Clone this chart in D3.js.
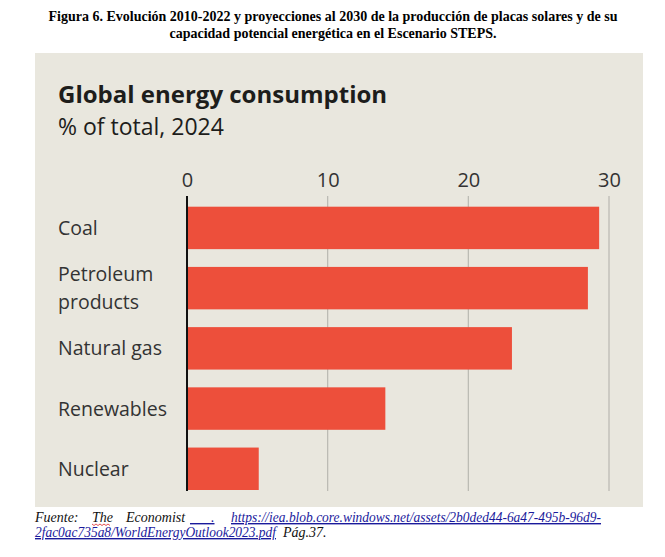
<!DOCTYPE html>
<html>
<head>
<meta charset="utf-8">
<script src="https://cdn.jsdelivr.net/npm/d3@7"></script>
<style>
  body { margin: 0; background: #fff; }
  svg { display: block; }
  .cat { font-family: "Open Sans", sans-serif; font-size: 19.5px; fill: #333; }
  .tick text { font-family: "Open Sans", sans-serif; font-size: 20px; fill: #333; }
  .head { font-family: "Liberation Serif", "Times New Roman", serif; font-weight: bold; font-size: 14px; fill: #000; }
  .foot { font-family: "Liberation Serif", "Times New Roman", serif; font-style: italic; font-size: 14px; fill: #111; }
  .link { fill: #1a1a9c; }
</style>
</head>
<body>
<div id="chart"></div>
<script>
// values, % of total 2024
var categories = ["Coal", "Petroleum products", "Natural gas", "Renewables", "Nuclear"];
var labelLines = [["Coal"], ["Petroleum", "products"], ["Natural gas"], ["Renewables"], ["Nuclear"]];
var shares = [29.3, 28.5, 23.1, 14.1, 5.1];
var tickValues = [0, 10, 20, 30];

var W = 665, H = 557;
var svg = d3.select("#chart").append("svg")
  .attr("width", W)
  .attr("height", H);

// figure caption above the panel
svg.append("text").attr("class", "head")
  .attr("x", 333).attr("y", 21).attr("text-anchor", "middle")
  .text("Figura 6. Evolución 2010-2022 y proyecciones al 2030 de la producción de placas solares y de su");
svg.append("text").attr("class", "head")
  .attr("x", 333).attr("y", 38).attr("text-anchor", "middle")
  .text("capacidad potencial energética en el Escenario STEPS.");

// beige panel
svg.append("rect")
  .attr("x", 35).attr("y", 53)
  .attr("width", 608).attr("height", 454)
  .attr("fill", "#e9e7de");

svg.append("text")
  .attr("x", 58).attr("y", 103)
  .style("font-family", "'Open Sans', sans-serif")
  .style("font-weight", "bold")
  .style("font-size", "24px")
  .style("fill", "#1d1d1b")
  .text("Global energy consumption");

svg.append("text")
  .attr("x", 58).attr("y", 135)
  .style("font-family", "'Open Sans', sans-serif")
  .style("font-size", "23px")
  .style("fill", "#1d1d1b")
  .text("% of total, 2024");

var x = d3.scaleLinear().domain([0, 30]).range([187, 609]);
var y = d3.scaleBand().domain(categories)
  .range([206.7, 490]).paddingInner(0.295).paddingOuter(0);

// tick labels and grid lines
var axis = svg.append("g")
  .attr("transform", "translate(0,197)")
  .call(d3.axisTop(x).tickValues(tickValues).tickSize(0).tickPadding(10));
axis.select(".domain").remove();

svg.append("g").selectAll("line.grid")
  .data(tickValues.slice(1))
  .enter().append("line")
  .attr("class", "grid")
  .attr("x1", x).attr("x2", x)
  .attr("y1", 196).attr("y2", 491)
  .attr("stroke", "#b9b8b1")
  .attr("stroke-width", 1.2);

svg.append("g").selectAll("rect.bar")
  .data(shares)
  .enter().append("rect")
  .attr("class", "bar")
  .attr("x", x(0))
  .attr("y", function(d, i) { return y(categories[i]); })
  .attr("width", function(d) { return x(d) - x(0); })
  .attr("height", y.bandwidth())
  .attr("fill", "#ed4f3b");

// zero line
svg.append("line")
  .attr("x1", x(0)).attr("x2", x(0))
  .attr("y1", 196).attr("y2", 491)
  .attr("stroke", "#111")
  .attr("stroke-width", 2);

// category labels
var lineH = 28;
var cat = svg.append("g").selectAll("text.cat")
  .data(labelLines)
  .enter().append("text")
  .attr("class", "cat")
  .attr("x", 58)
  .attr("y", function(d, i) {
    var mid = y(categories[i]) + y.bandwidth() / 2;
    return mid + 7 - (d.length - 1) * lineH / 2;
  });
cat.selectAll("tspan")
  .data(function(d) { return d; })
  .enter().append("tspan")
  .attr("x", 58)
  .attr("dy", function(d, j) { return j ? lineH : 0; })
  .text(function(d) { return d; });

// source note under the panel
var f1 = svg.append("text").attr("class", "foot").attr("y", 522);
f1.append("tspan").attr("x", 35).text("Fuente:");
f1.append("tspan").attr("x", 92).text("The");
f1.append("tspan").attr("x", 126).text("Economist");
f1.append("tspan").attr("class", "link").attr("x", 190).attr("text-decoration", "underline").text("\u00a0\u00a0\u00a0\u00a0\u00a0\u00a0.");
f1.append("tspan").attr("class", "link").attr("x", 231).attr("text-decoration", "underline")
  .attr("textLength", 370).attr("lengthAdjust", "spacingAndGlyphs")
  .text("https://iea.blob.core.windows.net/assets/2b0ded44-6a47-495b-96d9-");

var f2 = svg.append("text").attr("class", "foot").attr("y", 537);
f2.append("tspan").attr("class", "link").attr("x", 35).attr("text-decoration", "underline")
  .attr("textLength", 241).attr("lengthAdjust", "spacingAndGlyphs")
  .text("2fac0ac735a8/WorldEnergyOutlook2023.pdf");
f2.append("tspan").attr("x", 283).text("Pág.37.");

// spell-check squiggle under "The"
svg.append("path")
  .attr("d", d3.range(0, 20, 2).map(function(k, i) {
    return (i ? "L" : "M") + (92 + k) + "," + (524 + (i % 2 ? 1.5 : 0));
  }).join(""))
  .attr("fill", "none")
  .attr("stroke", "#d22")
  .attr("stroke-width", 0.8);
</script>
</body>
</html>
